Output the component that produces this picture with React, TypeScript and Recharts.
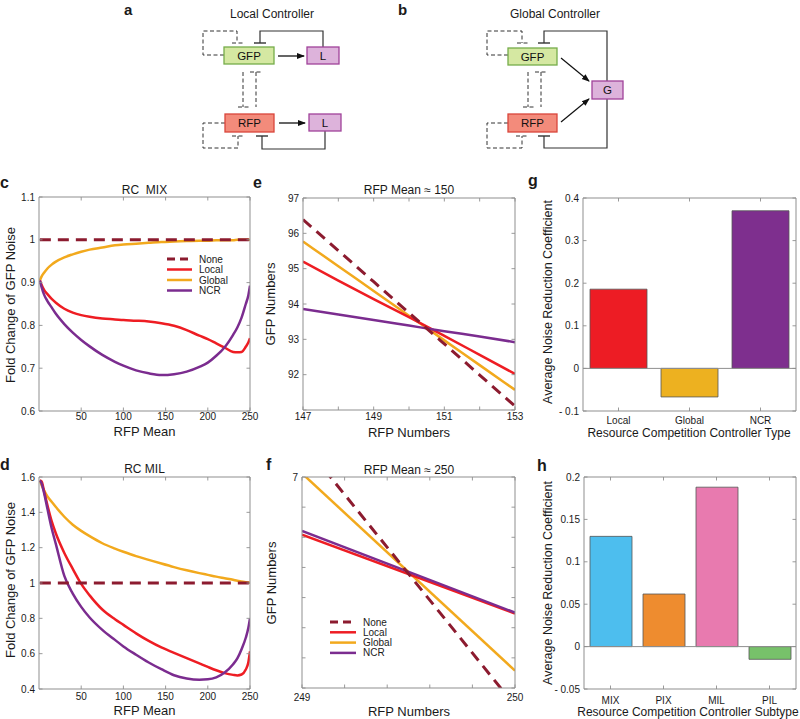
import React from 'react';
import { LineChart, Line, BarChart, Bar, XAxis, YAxis, ReferenceLine, Cell } from 'recharts';

const FONT = '"Liberation Sans", Arial, Helvetica, sans-serif';
const AX = '#8f8f8f';
const TXT = '#1a1a1a';

const C_NONE = '#8C1B2F';
const C_LOCAL = '#EE1D23';
const C_GLOBAL = '#F2A91D';
const C_NCR = '#7B2C8F';

// ---------- panels c / d : fold change vs RFP mean ----------
const rfpMean = [1, 3, 6, 10, 15, 20, 30, 40, 50, 60, 75, 90, 100, 115, 130, 145, 160, 175, 190, 200, 210, 220, 230, 235, 240, 245, 248, 250];
const mixNone = [1, 1, 1, 1, 1, 1, 1, 1, 1, 1, 1, 1, 1, 1, 1, 1, 1, 1, 1, 1, 1, 1, 1, 1, 1, 1, 1, 1];
const mixLocal = [0.905, 0.895, 0.883, 0.873, 0.862, 0.853, 0.839, 0.83, 0.824, 0.82, 0.816, 0.814, 0.8125, 0.811, 0.809, 0.805, 0.799, 0.789, 0.776, 0.768, 0.758, 0.748, 0.738, 0.737, 0.738, 0.75, 0.76, 0.77];
const mixGlobal = [0.905, 0.914, 0.923, 0.933, 0.942, 0.949, 0.959, 0.966, 0.972, 0.977, 0.982, 0.987, 0.989, 0.991, 0.993, 0.995, 0.996, 0.997, 0.998, 0.998, 0.999, 0.999, 0.999, 1.0, 1.0, 1.0, 1.0, 1.0];
const mixNCR = [0.905, 0.89, 0.872, 0.857, 0.842, 0.827, 0.803, 0.783, 0.766, 0.751, 0.731, 0.715, 0.706, 0.695, 0.688, 0.684, 0.686, 0.692, 0.703, 0.713, 0.729, 0.749, 0.778, 0.795, 0.818, 0.85, 0.87, 0.893];

const milNone = [1, 1, 1, 1, 1, 1, 1, 1, 1, 1, 1, 1, 1, 1, 1, 1, 1, 1, 1, 1, 1, 1, 1, 1, 1, 1, 1, 1];
const milLocal = [1.58, 1.575, 1.52, 1.44, 1.35, 1.28, 1.17, 1.08, 0.995, 0.93, 0.85, 0.795, 0.763, 0.715, 0.672, 0.635, 0.605, 0.575, 0.545, 0.525, 0.506, 0.49, 0.48, 0.477, 0.482, 0.51, 0.55, 0.613];
const milGlobal = [1.58, 1.555, 1.525, 1.49, 1.46, 1.43, 1.375, 1.33, 1.295, 1.265, 1.225, 1.195, 1.177, 1.152, 1.131, 1.11, 1.09, 1.072, 1.056, 1.046, 1.036, 1.027, 1.018, 1.013, 1.009, 1.005, 1.003, 1.002];
const milNCR = [1.58, 1.565, 1.51, 1.42, 1.31, 1.22, 1.04, 0.94, 0.865, 0.805, 0.735, 0.678, 0.641, 0.594, 0.55, 0.512, 0.478, 0.46, 0.453, 0.455, 0.466, 0.493, 0.54, 0.573, 0.625, 0.69, 0.745, 0.8];

const meanTicks = [50, 100, 150, 200, 250];
const mixYTicks = [0.6, 0.7, 0.8, 0.9, 1, 1.1];
const milYTicks = [0.4, 0.6, 0.8, 1, 1.2, 1.4, 1.6];

// ---------- panels e / f : GFP vs RFP numbers ----------
const rfp150 = [147, 148, 149, 150, 151, 152, 153];
const e150None = [96.39, 95.51, 94.63, 93.75, 92.87, 91.99, 91.11];
const e150Local = [95.2, 94.66, 94.14, 93.63, 93.1, 92.56, 92.02];
const e150Global = [95.77, 95.07, 94.37, 93.67, 92.97, 92.27, 91.57];
const e150NCR = [93.86, 93.7, 93.55, 93.39, 93.23, 93.08, 92.92];
const e150XTicks = [147, 148, 149, 150, 151, 152, 153];
const e150XLabels = [147, 149, 151, 153];
const e150YTicks = [91, 92, 93, 94, 95, 96, 97];
const e150YLabels = [92, 93, 94, 95, 96, 97];

const rfp250 = [249, 250];
const f250None = [8.17, -0.59];
const f250Local = [5.09, 2.47];
const f250Global = [7.12, 0.575];
const f250NCR = [5.21, 2.5];
const f250XTicks = [249, 249.2, 249.4, 249.6, 249.8, 250];
const f250XLabels = [249, 250];
const f250YTicks = [0, 1, 2, 3, 4, 5, 6, 7];
const f250YLabels = [7];

// ---------- panels g / h : bars ----------
const controllerTypes = ['Local', 'Global', 'NCR'];
const typeValues = [0.186, -0.067, 0.37];
const typeColors = ['#ED1C24', '#EDB120', '#7E2F8E'];
const typeYTicks = [-0.1, 0, 0.1, 0.2, 0.3, 0.4];

const controllerSubtypes = ['MIX', 'PIX', 'MIL', 'PIL'];
const subtypeValues = [0.13, 0.062, 0.188, -0.015];
const subtypeColors = ['#4DBEEE', '#EE8C2F', '#E87AAF', '#77C16A'];
const subtypeYTicks = [-0.05, 0, 0.05, 0.1, 0.15, 0.2];

const seriesNames = ['None', 'Local', 'Global', 'NCR'];
const seriesColors = [C_NONE, C_LOCAL, C_GLOBAL, C_NCR];
const drawOrder = [2, 1, 3, 0];

const M = 40;
const MG = { top: M - 1, right: M - 1, bottom: M - 1, left: M - 1 };

type Rect = { x0: number; y0: number; x1: number; y1: number };

const numFmt = (v: any) => {
  const n = Number(v);
  const s = String(Number(Math.abs(n).toFixed(3)));
  return n < 0 ? '- ' + s : s;
};
const noLabel = () => '';
const onlyIn = (list: number[]) => (v: any) => (list.some((l) => Math.abs(l - Number(v)) < 1e-6) ? numFmt(v) : '');

const makeTick = (side: string, fmt: (v: any) => string, off = 11) => (p: any) => {
  const { x, y, payload } = p;
  const L = 3.5;
  const label = fmt(payload.value);
  let x2 = x, y2 = y;
  if (side === 'left') x2 = x + L;
  if (side === 'right') x2 = x - L;
  if (side === 'bottom') y2 = y - L;
  if (side === 'top') y2 = y + L;
  return (
    <g>
      <line x1={x} y1={y} x2={x2} y2={y2} stroke={AX} strokeWidth={0.9} />
      {label && side === 'left' ? (
        <text x={x - 4} y={y} dy="0.35em" textAnchor="end" fontSize={10} fill={TXT} fontFamily={FONT}>{label}</text>
      ) : null}
      {label && side === 'bottom' ? (
        <text x={x} y={y + off} textAnchor="middle" fontSize={10} fill={TXT} fontFamily={FONT}>{label}</text>
      ) : null}
    </g>
  );
};

const catFmt = (v: any) => String(v);

function LinePanel(props: any) {
  const { r, data, xDomain, xTicks, xFmt, yDomain, yTicks, yFmt, curve, xOff } = props;
  const w = r.x1 - r.x0 + 2 * M;
  const h = r.y1 - r.y0 + 2 * M;
  const axisCommon = { tickSize: 0, tickMargin: 0, tickLine: false, axisLine: { stroke: AX, strokeWidth: 1 }, interval: 0 as const, allowDataOverflow: true };
  return (
    <div style={{ position: 'absolute', left: r.x0 - M, top: r.y0 - M, width: w, height: h }}>
      <LineChart width={w} height={h} data={data} margin={MG}>
        <XAxis type="number" dataKey="x" domain={xDomain} ticks={xTicks} height={1} tick={makeTick('bottom', xFmt, xOff)} {...axisCommon} />
        <XAxis xAxisId="t" orientation="top" type="number" dataKey="x" domain={xDomain} ticks={xTicks} height={1} tick={makeTick('top', noLabel)} {...axisCommon} />
        <YAxis type="number" domain={yDomain} ticks={yTicks} width={1} tick={makeTick('left', yFmt)} {...axisCommon} />
        <YAxis yAxisId="r" orientation="right" type="number" domain={yDomain} ticks={yTicks} width={1} tick={makeTick('right', noLabel)} {...axisCommon} />
        {drawOrder.map((i) => (
          <Line
            key={seriesNames[i]}
            dataKey={seriesNames[i]}
            type={curve}
            stroke={seriesColors[i]}
            strokeWidth={i === 0 ? 3 : 2.5}
            strokeDasharray={i === 0 ? '11 7' : undefined}
            dot={false}
            activeDot={false}
            isAnimationActive={false}
          />
        ))}
      </LineChart>
    </div>
  );
}

function BarPanel(props: any) {
  const { r, cats, vals, colors, yDomain, yTicks, barSize, xOff } = props;
  const w = r.x1 - r.x0 + 2 * M;
  const h = r.y1 - r.y0 + 2 * M;
  const data = cats.map((c: string, i: number) => ({ name: c, v: vals[i] }));
  const axisCommon = { tickSize: 0, tickMargin: 0, tickLine: false, axisLine: { stroke: AX, strokeWidth: 1 }, interval: 0 as const };
  return (
    <div style={{ position: 'absolute', left: r.x0 - M, top: r.y0 - M, width: w, height: h }}>
      <BarChart width={w} height={h} data={data} margin={MG}>
        <XAxis dataKey="name" type="category" height={1} tick={makeTick('bottom', catFmt, xOff)} {...axisCommon} />
        <XAxis xAxisId="t" orientation="top" dataKey="name" type="category" height={1} tick={makeTick('top', noLabel)} {...axisCommon} />
        <YAxis type="number" domain={yDomain} ticks={yTicks} width={1} tick={makeTick('left', numFmt)} allowDataOverflow {...axisCommon} />
        <YAxis yAxisId="r" orientation="right" type="number" domain={yDomain} ticks={yTicks} width={1} tick={makeTick('right', noLabel)} allowDataOverflow {...axisCommon} />
        <ReferenceLine y={0} stroke={AX} strokeWidth={1} />
        <Bar dataKey="v" barSize={barSize} stroke="#555" strokeWidth={0.8} isAnimationActive={false}>
          {data.map((d: any, i: number) => (
            <Cell key={d.name} fill={colors[i]} />
          ))}
        </Bar>
      </BarChart>
    </div>
  );
}

function Box(props: any) {
  const { x, y, w, h, fill, stroke, label } = props;
  return (
    <g>
      <rect x={x} y={y} width={w} height={h} fill={fill} stroke={stroke} strokeWidth={1.3} />
      <text x={x + w / 2} y={y + h / 2} dy="0.36em" textAnchor="middle" fontSize={11.5} fontFamily={FONT} fill="#111">{label}</text>
    </g>
  );
}

const GFP_FILL = '#D5E8A2', GFP_STROKE = '#76AC4A';
const RFP_FILL = '#F38B7B', RFP_STROKE = '#D9453B';
const CTL_FILL = '#DDB3DB', CTL_STROKE = '#A0429A';

function Diagrams() {
  const solid = { fill: 'none', stroke: '#333', strokeWidth: 1.2 };
  const dashed = { fill: 'none', stroke: '#333', strokeWidth: 1, strokeDasharray: '4 2.5' };
  const bar = { stroke: '#333', strokeWidth: 1.4 };
  return (
    <g>
      <defs>
        <marker id="arr" markerUnits="userSpaceOnUse" markerWidth="8" markerHeight="8" refX="7" refY="4" orient="auto">
          <path d="M0,1 L8,4 L0,7 z" fill="#111" />
        </marker>
      </defs>
      {/* a: local controller */}
      <text x={272} y={18} textAnchor="middle" fontSize={12} fontFamily={FONT} fill={TXT}>Local Controller</text>
      <polyline points="323,47 323,31 260,31 260,43" {...solid} />
      <line x1={254} y1={43} x2={266} y2={43} {...bar} />
      <polyline points="325,131 325,149 262,149 262,136" {...solid} />
      <line x1={256} y1={136} x2={268} y2={136} {...bar} />
      <polyline points="224,55 203,55 203,31 237,31 237,43" {...dashed} />
      <line x1={232} y1={43} x2={243} y2={43} {...dashed} />
      <polyline points="225,123 203,123 203,148 238,148 238,136" {...dashed} />
      <line x1={232} y1={136} x2={244} y2={136} {...dashed} />
      <line x1={243} y1={72} x2={243} y2={107} {...dashed} />
      <line x1={238} y1={107} x2={249} y2={107} {...dashed} />
      <line x1={256} y1={72} x2={256} y2={107} {...dashed} />
      <line x1={250} y1={72} x2={263} y2={72} {...dashed} />
      <line x1={278} y1={56} x2={304} y2={56} stroke="#111" strokeWidth={1.3} markerEnd="url(#arr)" />
      <line x1={279} y1={123} x2={305} y2={123} stroke="#111" strokeWidth={1.3} markerEnd="url(#arr)" />
      <Box x={224} y={47} w={50} h={17} fill={GFP_FILL} stroke={GFP_STROKE} label="GFP" />
      <Box x={307} y={47} w={32} h={17} fill={CTL_FILL} stroke={CTL_STROKE} label="L" />
      <Box x={225} y={114} w={49} h={18} fill={RFP_FILL} stroke={RFP_STROKE} label="RFP" />
      <Box x={309} y={114} w={32} h={17} fill={CTL_FILL} stroke={CTL_STROKE} label="L" />

      {/* b: global controller */}
      <text x={555} y={18} textAnchor="middle" fontSize={12} fontFamily={FONT} fill={TXT}>Global Controller</text>
      <polyline points="607,81 607,31 544,31 544,43" {...solid} />
      <line x1={538} y1={43} x2={550} y2={43} {...bar} />
      <polyline points="607,99 607,148 544,148 544,136" {...solid} />
      <line x1={538} y1={136} x2={550} y2={136} {...bar} />
      <polyline points="508,55 487,55 487,31 522,31 522,43" {...dashed} />
      <line x1={517} y1={43} x2={528} y2={43} {...dashed} />
      <polyline points="508,123 487,123 487,148 522,148 522,136" {...dashed} />
      <line x1={516} y1={136} x2={528} y2={136} {...dashed} />
      <line x1={528} y1={72} x2={528} y2={107} {...dashed} />
      <line x1={523} y1={107} x2={534} y2={107} {...dashed} />
      <line x1={541} y1={72} x2={541} y2={107} {...dashed} />
      <line x1={535} y1={72} x2={547} y2={72} {...dashed} />
      <line x1={561} y1={58} x2={589} y2={81} stroke="#111" strokeWidth={1.2} markerEnd="url(#arr)" />
      <line x1={561} y1={122} x2={589} y2={99} stroke="#111" strokeWidth={1.2} markerEnd="url(#arr)" />
      <Box x={508} y={48} w={49} h={17} fill={GFP_FILL} stroke={GFP_STROKE} label="GFP" />
      <Box x={508} y={114} w={49} h={18} fill={RFP_FILL} stroke={RFP_STROKE} label="RFP" />
      <Box x={592} y={81} w={31} h={18} fill={CTL_FILL} stroke={CTL_STROKE} label="G" />
    </g>
  );
}

function LegendBlock(props: any) {
  const { x, y, len, gap, step } = props;
  return (
    <g>
      {seriesNames.map((n, i) => (
        <g key={n}>
          <line x1={x} y1={y + i * step} x2={x + len} y2={y + i * step} stroke={seriesColors[i]} strokeWidth={i === 0 ? 3 : 2.5} strokeDasharray={i === 0 ? '8 5' : undefined} />
          <text x={x + len + gap} y={y + i * step} dy="0.35em" fontSize={10} fontFamily={FONT} fill={TXT}>{n}</text>
        </g>
      ))}
    </g>
  );
}

function T(props: any) {
  const { x, y, children, size = 12.5, rotate = false, anchor = 'middle', bold = false } = props;
  return (
    <text
      x={x}
      y={y}
      textAnchor={anchor}
      fontSize={size}
      fontWeight={bold ? 'bold' : 'normal'}
      fontFamily={FONT}
      fill={TXT}
      style={{ whiteSpace: 'pre' }}
      transform={rotate ? `rotate(-90 ${x} ${y})` : undefined}
      dominantBaseline={rotate ? 'middle' : undefined}
    >
      {children}
    </text>
  );
}

const rc: Rect = { x0: 39, y0: 197, x1: 250, y1: 411 };
const rd: Rect = { x0: 39, y0: 477, x1: 250, y1: 689 };
const re: Rect = { x0: 303, y0: 198, x1: 515, y1: 410 };
const rf: Rect = { x0: 302, y0: 477, x1: 515, y1: 688 };
const rg: Rect = { x0: 583, y0: 198, x1: 796, y1: 411 };
const rh: Rect = { x0: 584, y0: 477, x1: 796, y1: 689 };

export default function App() {
  const table = (xs: number[], a: number[], b: number[], c: number[], d: number[]) =>
    xs.map((x, i) => ({ x, None: a[i], Local: b[i], Global: c[i], NCR: d[i] }));
  const mixData = table(rfpMean, mixNone, mixLocal, mixGlobal, mixNCR);
  const milData = table(rfpMean, milNone, milLocal, milGlobal, milNCR);
  const e150Data = table(rfp150, e150None, e150Local, e150Global, e150NCR);
  const f250Data = table(rfp250, f250None, f250Local, f250Global, f250NCR);

  return (
    <div style={{ position: 'absolute', left: 0, top: 0, width: 800, height: 719, background: '#fff', overflow: 'hidden', fontFamily: FONT }}>
      <LinePanel r={rc} data={mixData} xDomain={[0, 250]} xTicks={meanTicks} xFmt={numFmt} yDomain={[0.6, 1.1]} yTicks={mixYTicks} yFmt={numFmt} curve="monotone" xOff={9} />
      <LinePanel r={rd} data={milData} xDomain={[0, 250]} xTicks={meanTicks} xFmt={numFmt} yDomain={[0.4, 1.6]} yTicks={milYTicks} yFmt={numFmt} curve="monotone" xOff={11} />
      <LinePanel r={re} data={e150Data} xDomain={[147, 153]} xTicks={e150XTicks} xFmt={onlyIn(e150XLabels)} yDomain={[91, 97]} yTicks={e150YTicks} yFmt={onlyIn(e150YLabels)} curve="monotone" xOff={10} />
      <LinePanel r={rf} data={f250Data} xDomain={[249, 250]} xTicks={f250XTicks} xFmt={onlyIn(f250XLabels)} yDomain={[0, 7]} yTicks={f250YTicks} yFmt={onlyIn(f250YLabels)} curve="linear" xOff={13} />
      <BarPanel r={rg} cats={controllerTypes} vals={typeValues} colors={typeColors} yDomain={[-0.1, 0.4]} yTicks={typeYTicks} barSize={57} xOff={13} />
      <BarPanel r={rh} cats={controllerSubtypes} vals={subtypeValues} colors={subtypeColors} yDomain={[-0.05, 0.2]} yTicks={subtypeYTicks} barSize={42} xOff={15} />

      <svg width={800} height={719} style={{ position: 'absolute', left: 0, top: 0, pointerEvents: 'none' }}>
        <Diagrams />
        <LegendBlock x={167} y={259} len={25} gap={7} step={10.5} />
        <LegendBlock x={330} y={622} len={26} gap={7} step={10.3} />

        <T x={124} y={15} size={15} anchor="start" bold>a</T>
        <T x={398} y={15} size={15} anchor="start" bold>b</T>
        <T x={0} y={188} size={16} anchor="start" bold>c</T>
        <T x={0} y={470} size={16} anchor="start" bold>d</T>
        <T x={253} y={188} size={16} anchor="start" bold>e</T>
        <T x={266} y={470} size={16} anchor="start" bold>f</T>
        <T x={528} y={186} size={16} anchor="start" bold>g</T>
        <T x={537} y={471} size={16} anchor="start" bold>h</T>

        <T x={144.5} y={194} size={12}>{'RC  MIX'}</T>
        <T x={144.5} y={473} size={12}>RC MIL</T>
        <T x={409} y={194} size={12}>RFP Mean ≈ 150</T>
        <T x={409} y={474} size={12}>RFP Mean ≈ 250</T>

        <T x={144.5} y={436} size={13}>RFP Mean</T>
        <T x={144.5} y={715} size={13}>RFP Mean</T>
        <T x={409} y={437} size={13}>RFP Numbers</T>
        <T x={409} y={716} size={13}>RFP Numbers</T>
        <T x={689} y={437} size={12}>Resource Competition Controller Type</T>
        <T x={688} y={716} size={12}>Resource Competition Controller Subtype</T>

        <T x={12} y={305} size={13} rotate>Fold Change of GFP Noise</T>
        <T x={12} y={580} size={13} rotate>Fold Change of GFP Noise</T>
        <T x={272} y={304} size={13} rotate>GFP Numbers</T>
        <T x={273} y={583} size={13} rotate>GFP Numbers</T>
        <T x={549} y={302} size={12.5} rotate>Average Noise Reduction Coefficient</T>
        <T x={549} y={583} size={12.5} rotate>Average Noise Reduction Coefficient</T>
      </svg>
    </div>
  );
}
